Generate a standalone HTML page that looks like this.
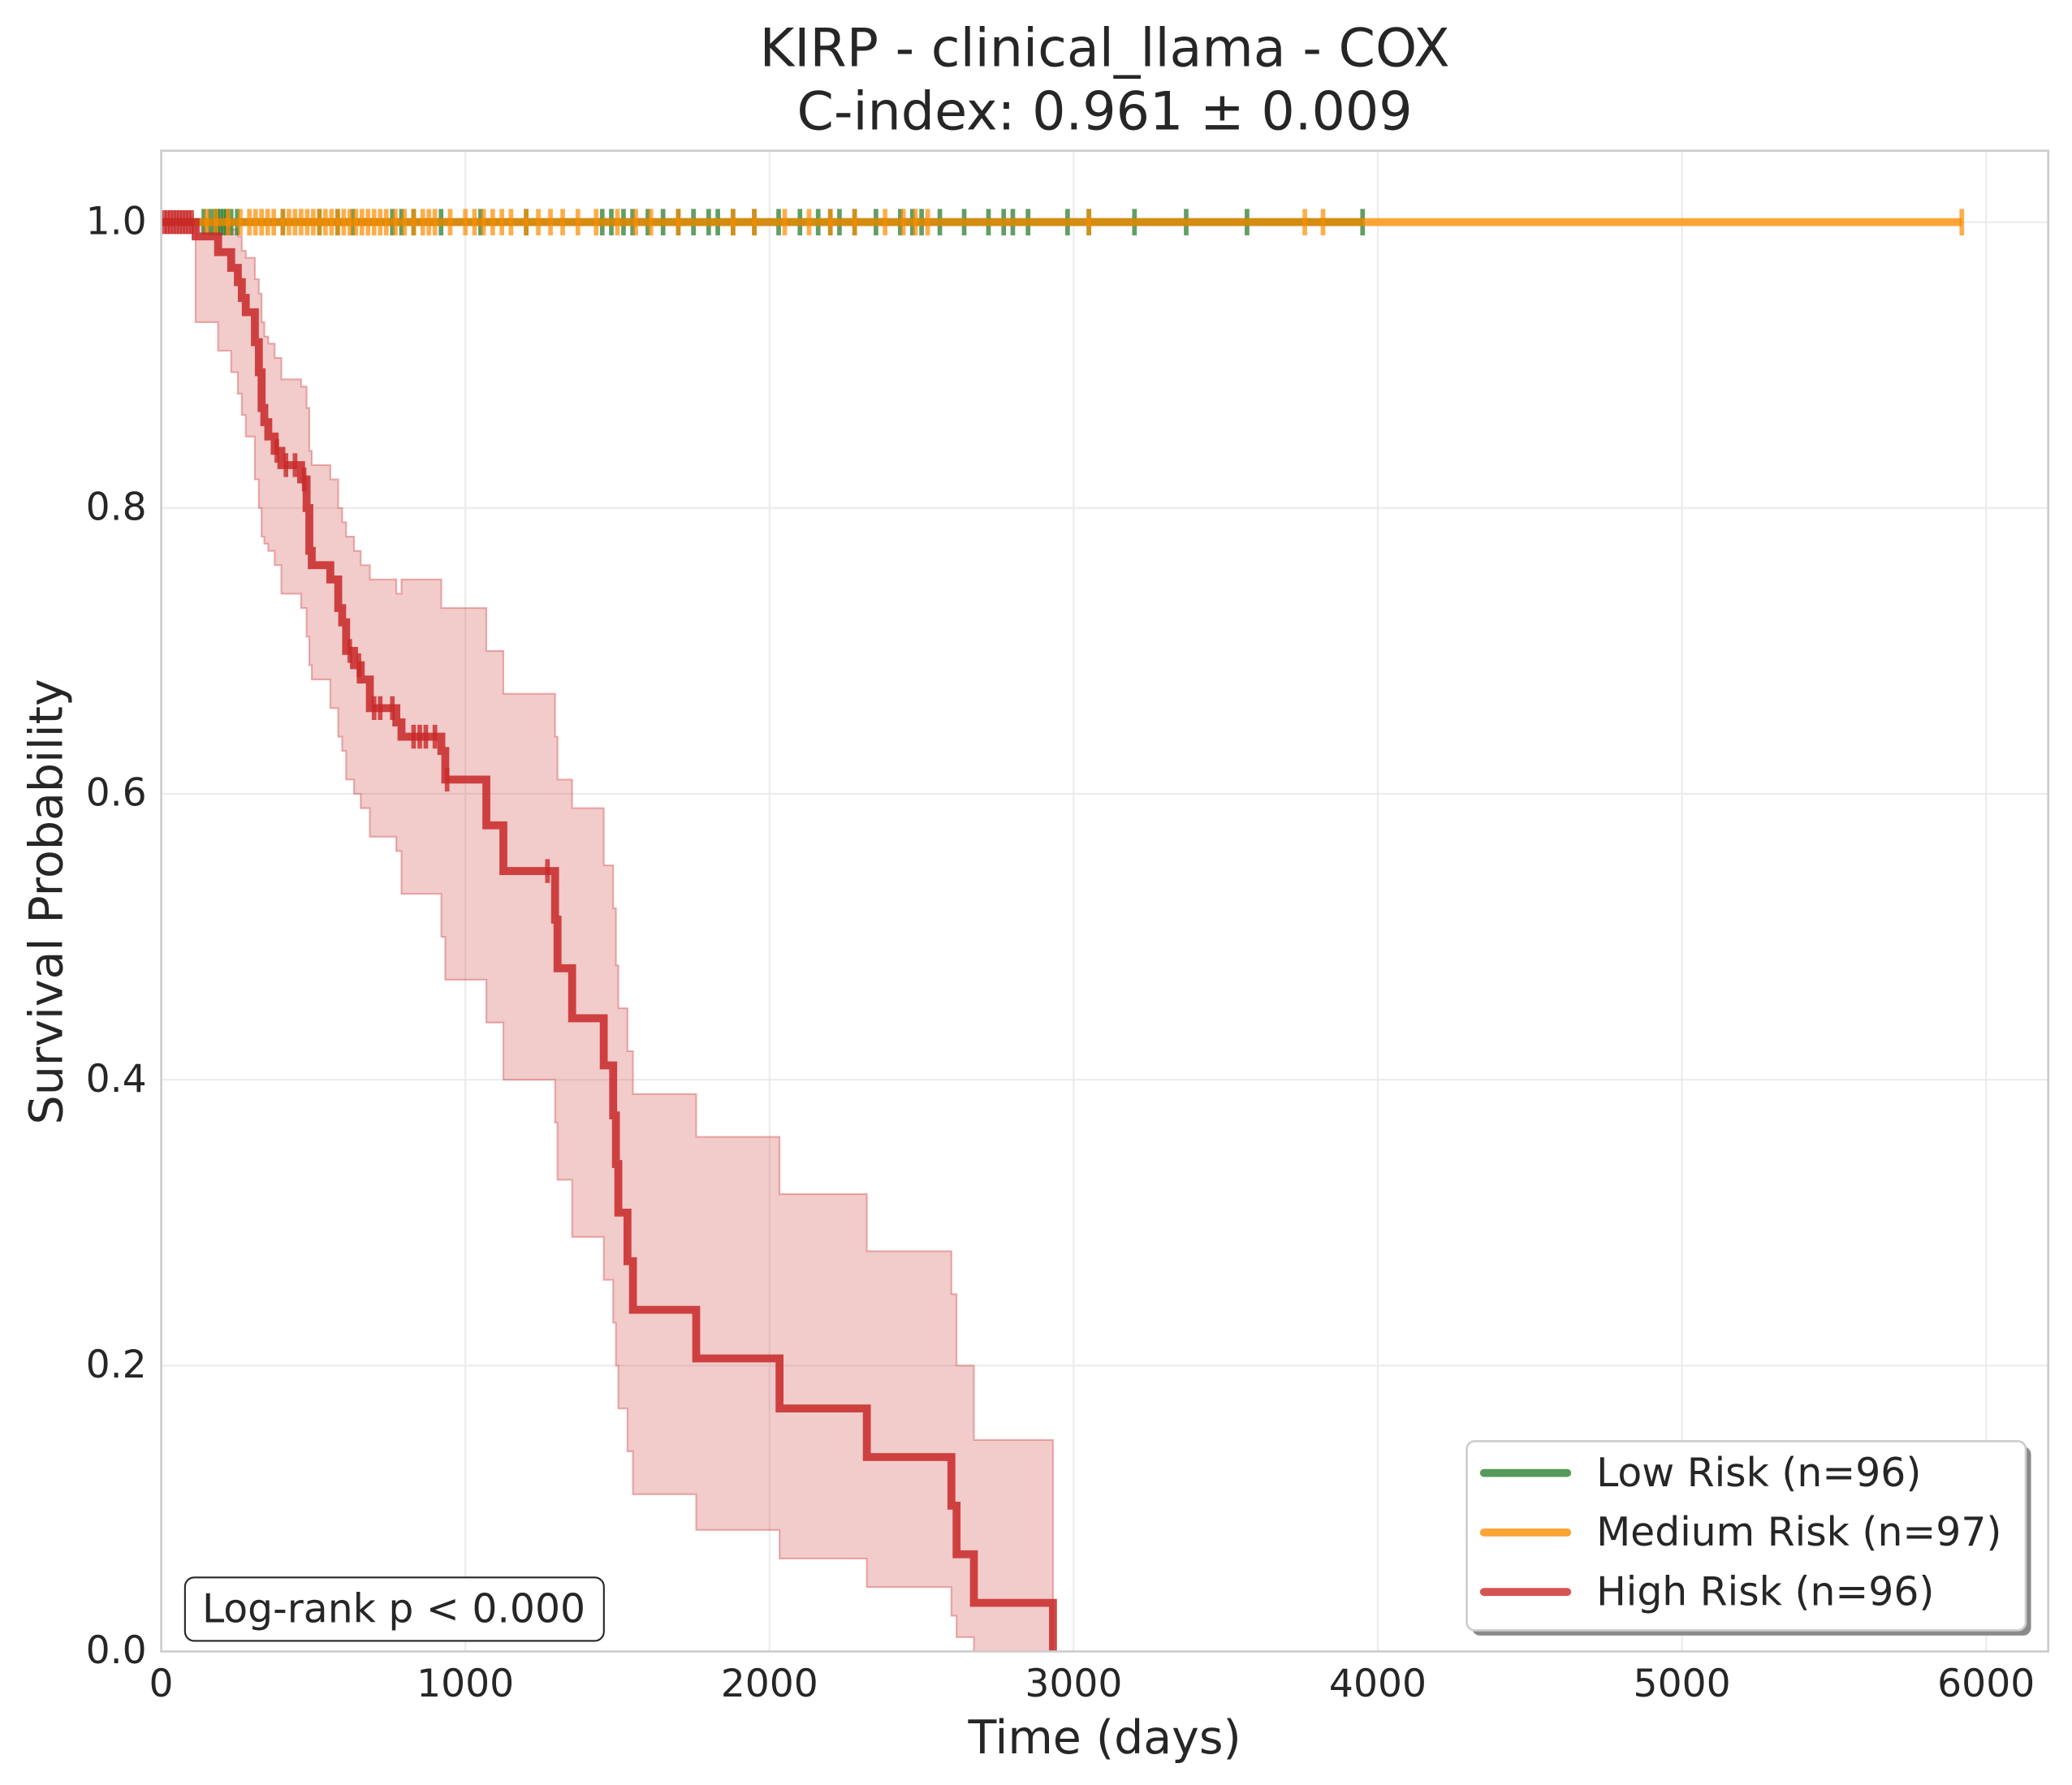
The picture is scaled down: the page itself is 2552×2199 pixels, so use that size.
<!DOCTYPE html>
<html><head><meta charset="utf-8"><style>
html,body{margin:0;padding:0;background:#fff}
svg{display:block}
text{font-family:"DejaVu Sans","Liberation Sans",sans-serif;fill:#262626}
</style></head><body>
<svg id="chart" width="2552" height="2199" viewBox="0 0 1568 1350" preserveAspectRatio="none" xmlns="http://www.w3.org/2000/svg">
<rect x="0" y="0" width="1568" height="1350" fill="#fff"/>
<g id="grid"></g>
<g id="marks"></g>
<rect x="122" y="114" width="1428" height="1135" fill="none" stroke="#cccccc" stroke-width="1.6"/>
<g id="ticks"></g>
<text x="836" y="50" font-size="40" text-anchor="middle">KIRP - clinical_llama - COX</text>
<text x="836" y="98" font-size="40" text-anchor="middle">C-index: 0.961 ± 0.009</text>
<text x="836" y="1326" font-size="35" text-anchor="middle">Time (days)</text>
<text x="47" y="682" font-size="35" text-anchor="middle" transform="rotate(-90 47 682)">Survival Probability</text>
<g>
<rect x="140" y="1193" width="317" height="48" rx="7" fill="#fff" stroke="#262626" stroke-width="1.3"/>
<text x="298" y="1227" font-size="30" text-anchor="middle">Log-rank p &lt; 0.000</text>
</g>
<g>
<rect x="1114" y="1094" width="423" height="143" rx="6" fill="#8a8a8a"/>
<rect x="1110" y="1090" width="423" height="143" rx="6" fill="#fff" stroke="#cccccc" stroke-width="1.6"/>
<line x1="1123" y1="1114" x2="1186" y2="1114" stroke="#559a5a" stroke-width="6" stroke-linecap="round"/>
<text x="1208" y="1124" font-size="30">Low Risk (n=96)</text>
<line x1="1123" y1="1159" x2="1186" y2="1159" stroke="#fda434" stroke-width="6" stroke-linecap="round"/>
<text x="1208" y="1169" font-size="30">Medium Risk (n=97)</text>
<line x1="1123" y1="1204" x2="1186" y2="1204" stroke="#d55454" stroke-width="6" stroke-linecap="round"/>
<text x="1208" y="1214" font-size="30">High Risk (n=96)</text>
</g>
</svg>
<script>
// ---- data ----
const xTicks = [0,1000,2000,3000,4000,5000,6000];
const yTicks = [0.0,0.2,0.4,0.6,0.8,1.0];
const highTimes = [0,113,187,230,252,265,278,308,321,330,339,352,373,395,460,478,487,495,556,582,595,608,634,656,686,773,790,921,934,1069,1125,1295,1303,1351,1455,1486,1495,1503,1533,1551,1759,2033,2320,2598,2615,2672,2932];
const highSurv  = [1.0,0.99,0.979,0.968,0.958,0.947,0.937,0.916,0.895,0.87,0.86,0.85,0.84,0.83,0.82,0.80,0.77,0.76,0.75,0.73,0.72,0.70,0.69,0.68,0.66,0.65,0.64,0.63,0.61,0.578,0.546,0.512,0.478,0.443,0.41,0.375,0.341,0.307,0.273,0.239,0.205,0.17,0.136,0.102,0.068,0.034,0.0];
const highUpper = [1.0,1.0,1.0,0.995,0.99,0.98,0.975,0.96,0.95,0.93,0.92,0.915,0.905,0.89,0.885,0.87,0.84,0.83,0.82,0.80,0.79,0.78,0.77,0.76,0.75,0.74,0.75,0.73,0.73,0.70,0.67,0.64,0.61,0.59,0.55,0.52,0.48,0.45,0.42,0.39,0.36,0.32,0.28,0.25,0.20,0.148,0.148];
const highLower = [1.0,0.93,0.91,0.895,0.88,0.865,0.85,0.82,0.80,0.78,0.775,0.77,0.76,0.74,0.73,0.71,0.69,0.68,0.66,0.64,0.63,0.61,0.60,0.59,0.57,0.56,0.53,0.50,0.47,0.44,0.40,0.37,0.33,0.29,0.26,0.23,0.20,0.17,0.14,0.11,0.085,0.065,0.045,0.025,0.01,0.0,0.0];
const highCensorT = [10,20,30,40,50,60,70,80,90,100,380,410,440,470,620,650,700,720,760,830,850,870,900,940,1270];
const lowCensor = [140,160,175,185,195,205,215,230,250,400,520,580,630,760,790,830,920,1050,1200,1450,1480,1520,1550,1600,1650,1700,1750,1800,1830,1880,1950,2030,2100,2160,2200,2230,2280,2350,2430,2470,2500,2560,2640,2720,2770,2800,2850,2980,3050,3200,3370,3570,3950];
const medCensor = [150,180,220,260,290,310,330,350,370,400,420,440,460,480,500,520,540,560,580,600,620,640,660,680,700,720,740,770,800,830,860,880,900,950,1000,1030,1060,1090,1120,1150,1200,1240,1280,1320,1370,1430,1500,1560,1610,1700,1880,1950,2050,2130,2200,2280,2380,2440,2480,2520,3050,3760,3820,5920];
const lowEnd = 3950, medEnd = 5920;

// ---- axes ----
const X0=122, X1=1503, Y0=1249, Y1=168;
const xs = t => X0 + (X1-X0)*t/6000;
const ys = p => Y0 - (Y0-Y1)*p;
const NS='http://www.w3.org/2000/svg';
function mk(tag, attrs, parent){const e=document.createElementNS(NS,tag);for(const k in attrs)e.setAttribute(k,attrs[k]);parent.appendChild(e);return e;}
const grid=document.getElementById('grid'), marks=document.getElementById('marks'), ticks=document.getElementById('ticks');

xTicks.forEach(v=>{
  const l=mk('line',{x1:xs(v),x2:xs(v),y1:114,y2:1249,stroke:'#ebebeb','stroke-width':1.3},grid);
  
  
  const t=mk('text',{x:xs(v),y:1283,'font-size':29,'text-anchor':'middle'},ticks);
  t.textContent=String(v);
  
  
});
yTicks.forEach(v=>{
  const l=mk('line',{x1:122,x2:1550,y1:ys(v),y2:ys(v),stroke:'#ebebeb','stroke-width':1.3},grid);
  
  
  const t=mk('text',{x:111,y:ys(v)+9,'font-size':29,'text-anchor':'end'},ticks);
  t.textContent=v.toFixed(1);
  
  
});

// CI band
const endT = highTimes[highTimes.length-1];
let up='', lo='';
for(let i=0;i<highTimes.length;i++){
  const a=xs(highTimes[i]), b=xs(i+1<highTimes.length?highTimes[i+1]:endT);
  up += (i?'L':'M')+a+','+ys(highUpper[i])+'L'+b+','+ys(highUpper[i]);
}
for(let i=highTimes.length-1;i>=0;i--){
  const a=xs(highTimes[i]), b=xs(i+1<highTimes.length?highTimes[i+1]:endT);
  lo += 'L'+b+','+ys(highLower[i])+'L'+a+','+ys(highLower[i]);
}
const band=mk('path',{d:up+lo+'Z',fill:'rgba(213,84,84,0.3)',stroke:'rgba(213,84,84,0.45)','stroke-width':1.3},marks);



// green line and ticks
const gl=mk('line',{x1:xs(0),x2:xs(lowEnd),y1:ys(1),y2:ys(1),stroke:'#4a8f4e','stroke-width':6},marks);


lowCensor.forEach(t=>{
  const c=mk('line',{x1:xs(t),x2:xs(t),y1:ys(1)-10,y2:ys(1)+10,stroke:'rgba(46,125,50,0.75)','stroke-width':3.5},marks);
  
  
});
// orange line and ticks
const ol=mk('line',{x1:xs(0),x2:xs(medEnd),y1:ys(1),y2:ys(1),stroke:'rgba(251,140,0,0.78)','stroke-width':6},marks);


medCensor.forEach(t=>{
  const c=mk('line',{x1:xs(t),x2:xs(t),y1:ys(1)-10,y2:ys(1)+10,stroke:'rgba(251,140,0,0.7)','stroke-width':3.5},marks);
  
  
});
// red step line
let d='M'+xs(highTimes[0])+','+ys(highSurv[0]);
for(let i=1;i<highTimes.length;i++){
  d+='L'+xs(highTimes[i])+','+ys(highSurv[i-1])+'L'+xs(highTimes[i])+','+ys(highSurv[i]);
}
const rl=mk('path',{d:d,fill:'none',stroke:'rgba(200,40,40,0.85)','stroke-width':6,'stroke-linejoin':'miter'},marks);


function survAt(t){let s=1;for(let i=0;i<highTimes.length;i++){if(highTimes[i]<=t)s=highSurv[i];}return s;}
highCensorT.forEach(t=>{
  const y=ys(survAt(t));
  const c=mk('line',{x1:xs(t),x2:xs(t),y1:y-9,y2:y+9,stroke:'rgba(200,40,40,0.8)','stroke-width':3.5},marks);
  
  
});
</script>
</body></html>
